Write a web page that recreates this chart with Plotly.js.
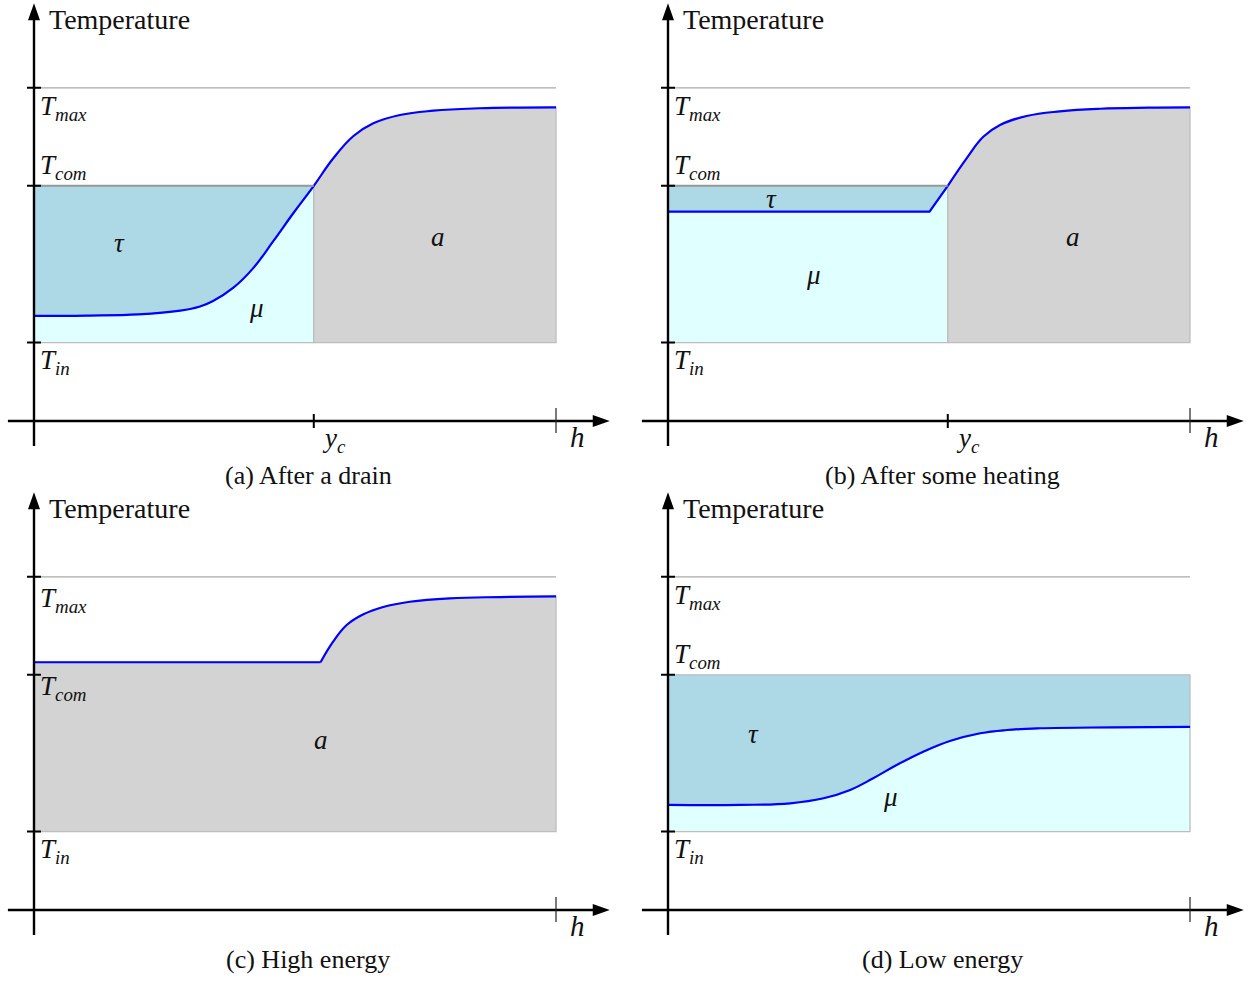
<!DOCTYPE html>
<html><head><meta charset="utf-8">
<script src="https://cdn.plot.ly/plotly-3.0.1.min.js"></script>
<style>html,body{margin:0;padding:0;background:#fff}#chart{width:1254px;height:981px}</style>
</head><body><div id="chart"></div>
<script>
// ---- reference levels (schematic units) ----
const T_IN = 1.0, T_COM = 3.0, T_MAX = 4.25;
const H_MAX = 1.0, Y_C = 0.536;

// ---- (a) After a drain ----
const aH = [0, 0.10, 0.20, 0.28, 0.318, 0.343, 0.382, 0.420, 0.458, 0.497, 0.536, 0.573, 0.612, 0.650, 0.701, 0.765, 0.854, 0.93, 1.0];
const aT = [1.34, 1.345, 1.36, 1.407, 1.46, 1.53, 1.70, 1.95, 2.29, 2.653, 3.0, 3.348, 3.635, 3.797, 3.903, 3.958, 3.989, 3.998, 4.0];
// ---- (b) After some heating ----
const bH = [0, 0.501, 0.536, 0.572, 0.604, 0.636, 0.687, 0.751, 0.828, 0.92, 1.0];
const bT = [2.67, 2.67, 3.0, 3.351, 3.626, 3.776, 3.890, 3.950, 3.983, 3.996, 4.0];
// ---- (c) High energy ----
const cH = [0, 0.549, 0.573, 0.599, 0.631, 0.669, 0.720, 0.797, 0.893, 1.0];
const cT = [3.16, 3.16, 3.422, 3.635, 3.772, 3.865, 3.932, 3.976, 3.992, 4.0];
// ---- (d) Low energy ----
const dH = [0, 0.138, 0.234, 0.298, 0.349, 0.393, 0.438, 0.489, 0.540, 0.598, 0.649, 0.713, 0.85, 1.0];
const dT = [1.34, 1.34, 1.361, 1.425, 1.531, 1.680, 1.849, 2.019, 2.156, 2.254, 2.296, 2.318, 2.33, 2.335];

const captions = ["(a) After a drain", "(b) After some heating", "(c) High energy", "(d) Low energy"];
const levelLabels = ["<i>T</i><sub><i>max</i></sub>", "<i>T</i><sub><i>com</i></sub>", "<i>T</i><sub><i>in</i></sub>"];

// ---- colours ----
const C_TAU = '#add8e6', C_MU = '#e0ffff', C_A = '#d3d3d3', C_CURVE = '#0000ff', C_EDGE = '#bdbdbd';
const FONT = 'Liberation Serif';

// ---- page geometry ----
const W = 1254, H = 981, PXU = 522, PYU = 78.4;
const panels = [
  {ox: 34, oy: 421, cap: [308, 475]},
  {ox: 668, oy: 421, cap: [942, 475]},
  {ox: 34, oy: 910, cap: [308, 959]},
  {ox: 668, oy: 910, cap: [942, 959]}
];
const XR = [-0.06, 1.12], YR = [-0.4, 5.36];

const traces = [], shapes = [], annotations = [];
const layout = {
  width: W, height: H, margin: {l: 0, r: 0, t: 0, b: 0},
  paper_bgcolor: '#fff', plot_bgcolor: 'rgba(0,0,0,0)', showlegend: false,
  hovermode: false, shapes: shapes, annotations: annotations
};

function ax(i) { return {x: i === 0 ? 'x' : 'x' + (i + 1), y: i === 0 ? 'y' : 'y' + (i + 1)}; }

panels.forEach((p, i) => {
  const n = i === 0 ? '' : String(i + 1);
  const axStyle = {showgrid: false, zeroline: false, showticklabels: false, showline: false, ticks: '', fixedrange: true};
  layout['xaxis' + n] = Object.assign({}, axStyle, {range: XR, domain: [(p.ox + XR[0] * PXU) / W, (p.ox + XR[1] * PXU) / W], anchor: 'y' + n});
  layout['yaxis' + n] = Object.assign({}, axStyle, {range: YR, domain: [(H - (p.oy - YR[0] * PYU)) / H, (H - (p.oy - YR[1] * PYU)) / H], anchor: 'x' + n});
});

function poly(i, xs, ys, fill, edge) {
  const a = ax(i);
  traces.push({x: xs, y: ys, xaxis: a.x, yaxis: a.y, mode: 'lines', fill: 'toself', fillcolor: fill,
    line: {color: edge || C_EDGE, width: 1.3}, hoverinfo: 'skip'});
}
function curve(i, xs, ys, shape) {
  const a = ax(i);
  traces.push({x: xs, y: ys, xaxis: a.x, yaxis: a.y, mode: 'lines',
    line: {color: C_CURVE, width: 2.2, shape: shape || 'linear', smoothing: 1.2}, hoverinfo: 'skip'});
}
function hline(i, x0, x1, y, color, width) {
  const a = ax(i);
  shapes.push({type: 'line', xref: a.x, yref: a.y, x0: x0, x1: x1, y0: y, y1: y, line: {color: color, width: width}});
}
function split(H_, T_, pred) {
  const xs = [], ys = [];
  H_.forEach((h, k) => { if (pred(h)) { xs.push(h); ys.push(T_[k]); } });
  return [xs, ys];
}

// ---- regions ----
[[0, aH, aT], [1, bH, bT]].forEach(([i, Hs, Ts]) => {
  const [lx, ly] = split(Hs, Ts, h => h <= Y_C);
  const [rx, ry] = split(Hs, Ts, h => h >= Y_C);
  poly(i, [0, ...lx, Y_C, 0], [T_IN, ...ly, T_IN, T_IN], C_MU);
  poly(i, [...lx, Y_C, 0, lx[0]], [...ly, T_COM, T_COM, ly[0]], C_TAU);
  poly(i, [Y_C, ...rx, H_MAX, Y_C], [T_IN, ...ry, T_IN, T_IN], C_A);
  hline(i, 0, Y_C, T_COM, '#999999', 2);
});
poly(2, [0, ...cH, H_MAX, 0], [T_IN, ...cT, T_IN, T_IN], C_A);
poly(3, [0, ...dH, H_MAX, 0], [T_IN, ...dT, T_IN, T_IN], C_MU);
poly(3, [...dH, H_MAX, 0, dH[0]], [...dT, T_COM, T_COM, dT[0]], C_TAU);

// ---- curves ----
curve(0, aH, aT, 'spline');
curve(1, bH.slice(0, 3), bT.slice(0, 3));
curve(1, bH.slice(2), bT.slice(2), 'spline');
curve(2, cH.slice(0, 2), cT.slice(0, 2));
curve(2, cH.slice(1), cT.slice(1), 'spline');
curve(3, dH, dT, 'spline');

// ---- axes, ticks, labels ----
panels.forEach((p, i) => {
  const a = ax(i);
  hline(i, 0, H_MAX, T_MAX, '#aaaaaa', 1.3);
  shapes.push({type: 'line', xref: a.x, yref: a.y, x0: -0.05, x1: 1.09, y0: 0, y1: 0, line: {color: '#000', width: 2.4}});
  shapes.push({type: 'line', xref: a.x, yref: a.y, x0: 0, x1: 0, y0: -0.32, y1: 5.25, line: {color: '#000', width: 2.4}});
  shapes.push({type: 'path', xref: a.x, yref: a.y, xsizemode: 'pixel', ysizemode: 'pixel', xanchor: 1.103, yanchor: 0,
    path: 'M0,0 L-17,6 L-17,-6 Z', fillcolor: '#000', line: {width: 0}});
  shapes.push({type: 'path', xref: a.x, yref: a.y, xsizemode: 'pixel', ysizemode: 'pixel', xanchor: 0, yanchor: 5.33,
    path: 'M0,0 L-6,-17 L6,-17 Z', fillcolor: '#000', line: {width: 0}});
  [T_IN, T_COM, T_MAX].forEach(t => shapes.push({type: 'line', xref: a.x, yref: a.y, xsizemode: 'pixel', xanchor: 0,
    x0: -7, x1: 7, y0: t, y1: t, line: {color: '#000', width: 2}}));
  shapes.push({type: 'line', xref: a.x, yref: a.y, x0: H_MAX, x1: H_MAX, y0: -0.153, y1: 0.166, line: {color: '#222', width: 1.2}});
  if (i < 2) shapes.push({type: 'line', xref: a.x, yref: a.y, x0: Y_C, x1: Y_C, y0: -0.09, y1: 0.09, line: {color: '#000', width: 2}});

  const lab = (x, y, text, size, xanchor) => annotations.push({xref: a.x, yref: a.y, x: x, y: y, text: text, showarrow: false,
    xanchor: xanchor || 'center', yanchor: 'middle', font: {family: FONT, size: size, color: '#111'}});
  lab(0.024, 5.12, 'Temperature', 28, 'left');
  lab(0.007, i === 2 ? 3.95 : 3.99, levelLabels[0], 27, 'left');
  lab(0.007, i === 2 ? 2.83 : 3.24, levelLabels[1], 27, 'left');
  lab(0.007, 0.75, levelLabels[2], 27, 'left');
  lab(1.042, -0.20, '<i>h</i>', 29);
  if (i < 2) lab(0.575, -0.24, '<i>y</i><sub><i>c</i></sub>', 27);
  annotations.push({xref: 'paper', yref: 'paper', x: p.cap[0] / W, y: 1 - p.cap[1] / H, text: captions[i], showarrow: false,
    xanchor: 'center', yanchor: 'middle', font: {family: FONT, size: 26, color: '#111'}});
});
const regionLab = (i, x, y, text) => { const a = ax(i); annotations.push({xref: a.x, yref: a.y, x: x, y: y, text: '<i>' + text + '</i>',
  showarrow: false, font: {family: FONT, size: 27, color: '#111'}}); };
regionLab(0, 0.163, 2.27, 'τ'); regionLab(0, 0.427, 1.44, 'μ'); regionLab(0, 0.774, 2.35, 'a');
regionLab(1, 0.199, 2.83, 'τ'); regionLab(1, 0.278, 1.86, 'μ'); regionLab(1, 0.776, 2.35, 'a');
regionLab(2, 0.550, 2.17, 'a');
regionLab(3, 0.163, 2.245, 'τ'); regionLab(3, 0.427, 1.44, 'μ');

Plotly.newPlot('chart', traces, layout, {staticPlot: true, displayModeBar: false});
</script></body></html>
